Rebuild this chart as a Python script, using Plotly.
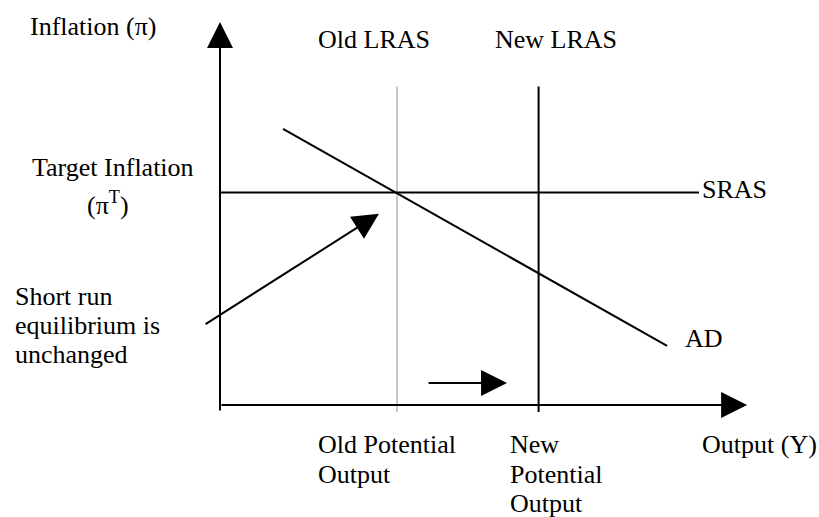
import plotly.graph_objects as go

# %%
# Diagram values, in output (Y) / inflation (pi) units
potential_old = 5.0
potential_new = 9.0
target_inflation = 6.0
lras_y = [-0.2, 9.0]
sras_x = [0.0, 13.53]
ad_x = [1.78, 12.63]
ad_y = [7.8, 1.67]
y_axis_y = [-0.2, 10.82]
x_axis_x = [0.0, 14.89]
eq_arrow_x = [-0.45, 4.49]
eq_arrow_y = [2.26, 5.4]
shift_arrow_x = [5.85, 8.11]
shift_arrow_y = [0.62, 0.62]

# %%
W, H = 819, 517
X0, Y0, S = 220, 405, 35.4   # pixel position of origin, pixels per unit
FONT = "Liberation Serif"

fig = go.Figure()
line = dict(color="black", width=2)
fig.add_trace(go.Scatter(x=[potential_old, potential_old], y=lras_y, mode="lines",
                         line=dict(color="#c8c8c8", width=2)))
fig.add_trace(go.Scatter(x=[potential_new, potential_new], y=lras_y, mode="lines", line=line))
fig.add_trace(go.Scatter(x=sras_x, y=[target_inflation] * 2, mode="lines", line=line))
fig.add_trace(go.Scatter(x=ad_x, y=ad_y, mode="lines", line=line))


def arrow(xs, ys):
    fig.add_annotation(x=xs[1], y=ys[1], ax=xs[0], ay=ys[0], axref="x", ayref="y",
                       xref="x", yref="y", text="", showarrow=True, arrowhead=2,
                       arrowsize=2.6, arrowwidth=2, arrowcolor="black")


arrow([0, 0], y_axis_y)
arrow(x_axis_x, [0, 0])
arrow(eq_arrow_x, eq_arrow_y)
arrow(shift_arrow_x, shift_arrow_y)


def label(text, x, y, anchor="left"):
    fig.add_annotation(x=x / W, y=1 - y / H, xref="paper", yref="paper", text=text,
                       showarrow=False, xanchor=anchor, yanchor="middle",
                       font=dict(family=FONT, size=26, color="black"))


label("Inflation (π)", 28, 26)
label("Old LRAS", 316, 40)
label("New LRAS", 493, 40)
label("Target Inflation", 113, 167, "center")
label("(π<sup>T</sup>)", 108, 203, "center")
label("Short run", 13, 296)
label("equilibrium is", 13, 325)
label("unchanged", 13, 354)
label("SRAS", 700, 189)
label("AD", 683, 338)
label("Old Potential", 316, 444)
label("Output", 316, 474)
label("New", 508, 444)
label("Potential", 508, 474)
label("Output", 508, 503)
label("Output (Y)", 700, 444)

fig.update_xaxes(range=[-X0 / S, (W - X0) / S], visible=False)
fig.update_yaxes(range=[(Y0 - H) / S, Y0 / S], visible=False)
fig.update_layout(width=W, height=H, template=None, showlegend=False,
                  margin=dict(l=0, r=0, t=0, b=0),
                  plot_bgcolor="white", paper_bgcolor="white",
                  font_family=FONT)

fig.write_html("out.html", config={"displayModeBar": False},
               post_script="document.body.style.margin='0';")
